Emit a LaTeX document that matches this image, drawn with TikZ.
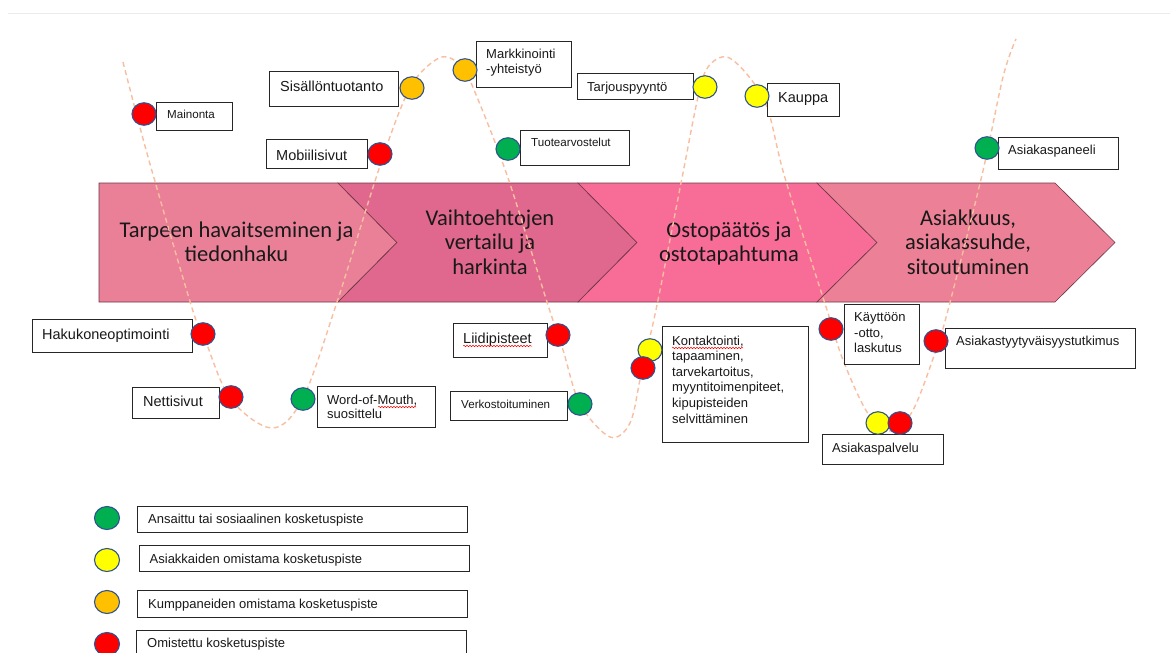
\documentclass[tikz,border=0pt]{standalone}
\usepackage{fontspec}
\setmainfont{Liberation Sans}
\newfontfamily\calfont{Carlito}
\usetikzlibrary{shapes.geometric,decorations.pathmorphing}

\definecolor{cA}{RGB}{233,128,152}
\definecolor{cB}{RGB}{224,104,142}
\definecolor{cC}{RGB}{248,108,152}
\definecolor{cD}{RGB}{236,128,150}
\definecolor{edgec}{RGB}{110,55,70}
\definecolor{curvec}{RGB}{248,190,160}
\definecolor{dotblue}{RGB}{47,82,143}
\definecolor{dred}{RGB}{255,0,0}
\definecolor{dgreen}{RGB}{0,176,80}
\definecolor{dyellow}{RGB}{255,255,0}
\definecolor{dorange}{RGB}{255,192,0}

\newcommand\tbx[5]{\node[tb, minimum width=#4pt, minimum height=#5pt] (#1) at (#2,#3) {};}

\begin{document}
\begin{tikzpicture}[x=1pt,y=-1pt,
  chev/.style={draw=edgec, line width=0.6pt},
  ctext/.style={font=\calfont\fontsize{22.5}{24}\selectfont, anchor=base, inner sep=0pt, text=black!90},
  tb/.style={draw=black!85, line width=0.9pt, fill=white, anchor=north west, inner sep=0pt},
  lb/.style={anchor=base west, inner sep=0pt, text=black!90},
  fa/.style={font=\fontsize{11.6}{14}\selectfont},
  fb/.style={font=\fontsize{13}{15.6}\selectfont},
  fc/.style={font=\fontsize{14.5}{17}\selectfont},
  dot/.style={ellipse, draw=dotblue, line width=1.1pt, minimum width=24pt, minimum height=22.5pt, inner sep=0pt},
  ldot/.style={dot, minimum width=25pt, minimum height=23pt},
  wave/.style={draw=curvec, line width=1.4pt, dash pattern=on 5pt off 3.5pt},
  spell/.style={draw=red, line width=0.5pt, decorate, decoration={snake, segment length=3pt, amplitude=0.7pt}}
]
\useasboundingbox (0,0) rectangle (1170,653);
\fill[white] (0,0) rectangle (1170,653);
\clip (0,0) rectangle (1170,653);

% faint top rule
\draw[black!8, line width=1pt] (8,13) -- (1170,13);

% chevrons
\filldraw[chev, fill=cA] (99,183) -- (338,183) -- (397,242.5) -- (338,302) -- (99,302) -- cycle;
\filldraw[chev, fill=cB] (338,183) -- (578,183) -- (637,242.5) -- (578,302) -- (338,302) -- (397,242.5) -- cycle;
\filldraw[chev, fill=cC] (578,183) -- (817,183) -- (877,242.5) -- (817,302) -- (578,302) -- (637,242.5) -- cycle;
\filldraw[chev, fill=cD] (817,183) -- (1055,183) -- (1115,242.5) -- (1055,302) -- (817,302) -- (877,242.5) -- cycle;

\node[ctext] (c1a) at (236.5,237) {Tarpeen havaitseminen ja};
\node[ctext] (c1b) at (236.5,261) {tiedonhaku};
\node[ctext] (c2a) at (490,225) {Vaihtoehtojen};
\node[ctext] (c2b) at (490,249) {vertailu ja};
\node[ctext] (c2c) at (490,274) {harkinta};
\node[ctext] (c3a) at (729,237) {Ostopäätös ja};
\node[ctext] (c3b) at (729,261) {ostotapahtuma};
\node[ctext] (c4a) at (968,225) {Asiakkuus,};
\node[ctext] (c4b) at (968,249) {asiakassuhde,};
\node[ctext] (c4c) at (968,274) {sitoutuminen};

% wave
\draw[wave] plot[smooth, tension=0.55] coordinates {
 (123,62) (138,120) (154,178) (192,308) (203,334) (230,398) (272,428) (303,398)
 (337,302) (376,178) (400,110) (417,77) (442,57) (462,67) (477,97) (508,178)
 (547,302) (563,350) (580,404) (610,437) (630,423) (641,375) (657,305) (682,178)
 (698,97) (708,67) (727,57) (750,78) (768,110) (785,178) (827,310) (843,360)
 (867,412) (889,431) (912,412) (935,353) (948,310) (982,175) (1003,77) (1016,39)};

% boxes
\tbx{bMain}{156}{102}{76}{28}
\tbx{bSis}{269}{71}{129}{35}
\tbx{bMob}{266}{139}{101}{29}
\tbx{bMark}{476}{41}{95}{46}
\tbx{bTarj}{577}{73}{116}{26}
\tbx{bTuot}{520}{130}{109}{35}
\tbx{bKaup}{767}{83}{72}{33}
\tbx{bPan}{998}{137}{120}{32}
\tbx{bHaku}{32}{319}{160}{33}
\tbx{bNet}{132}{387}{87}{31}
\tbx{bWom}{317}{386}{118}{41}
\tbx{bLiid}{453}{323}{94}{34}
\tbx{bVerk}{450}{391}{117}{29}
\tbx{bKont}{662}{326}{146}{116}
\tbx{bKayt}{844}{304}{75}{60}
\tbx{bTyyt}{945}{328}{190}{40}
\tbx{bPalv}{822}{434}{121}{30}
\tbx{bL1}{137}{506}{330}{26}
\tbx{bL2}{139}{545}{330}{26}
\tbx{bL3}{137}{590}{330}{27}
\tbx{bL4}{136}{630}{330}{32}

% box texts
\node[lb,fa] (tMain) at (167,118) {Mainonta};
\node[lb,fc] (tSis) at (280,91) {Sisällöntuotanto};
\node[lb,fc] (tMob) at (276,160.5) {Mobiilisivut};
\node[lb,fb] (tMark1) at (486,58) {Markkinointi};
\node[lb,fb] (tMark2) at (486,73.5) {-yhteistyö};
\node[lb,fb] (tTarj) at (587,91) {Tarjouspyyntö};
\node[lb,fa] (tTuot) at (531,146) {Tuotearvostelut};
\node[lb,fc] (tKaup) at (778,102.5) {Kauppa};
\node[lb,fb] (tPan) at (1008,154.5) {Asiakaspaneeli};
\node[lb,fc] (tHaku) at (42,339) {Hakukoneoptimointi};
\node[lb,fc] (tNet) at (143,406) {Nettisivut};
\node[lb,fb] (tWom1) at (327,404) {Word-of-Mouth,};
\node[lb,fb] (tWom2) at (327,418.5) {suosittelu};
\node[lb,fc] (tLiid) at (463,343) {Liidipisteet};
\node[lb,fa] (tVerk) at (461,408) {Verkostoituminen};
\node[lb,fb] (tKo1) at (672,345) {Kontaktointi,};
\node[lb,fb] (tKo2) at (672,360.6) {tapaaminen,};
\node[lb,fb] (tKo3) at (672,376.2) {tarvekartoitus,};
\node[lb,fb] (tKo4) at (672,391.8) {myyntitoimenpiteet,};
\node[lb,fb] (tKo5) at (672,407.4) {kipupisteiden};
\node[lb,fb] (tKo6) at (672,423) {selvittäminen};
\node[lb,fb] (tKa1) at (854,321.5) {Käyttöön};
\node[lb,fb] (tKa2) at (854,337) {-otto,};
\node[lb,fb] (tKa3) at (854,352.5) {laskutus};
\node[lb,fb] (tTyyt) at (956,345) {Asiakastyytyväisyystutkimus};
\node[lb,fb] (tPalv) at (832,452) {Asiakaspalvelu};
\node[lb,fb] (tL1) at (148,523.5) {Ansaittu tai sosiaalinen kosketuspiste};
\node[lb,fb] (tL2) at (149.5,563) {Asiakkaiden omistama kosketuspiste};
\node[lb,fb] (tL3) at (148,608.5) {Kumppaneiden omistama kosketuspiste};
\node[lb,fb] (tL4) at (147,647.5) {Omistettu kosketuspiste};

% spell-check squiggles
\draw[spell] (tLiid.base west) ++(0,3) -- ++(69,0);
\draw[spell] (tKo1.base west) ++(0,3) -- ++(71,0);
\draw[spell] (tWom1.base west) ++(51,3) -- ++(38,0);

% touchpoint dots
\node[dot, fill=dred] (d1) at (144,114) {};
\node[dot, fill=dorange] (d2) at (412,88) {};
\node[dot, fill=dred] (d3) at (380,154) {};
\node[dot, fill=dorange] (d4) at (465,70) {};
\node[dot, fill=dgreen] (d5) at (508,149) {};
\node[dot, fill=dyellow] (d6) at (705,87) {};
\node[dot, fill=dyellow] (d7) at (757,96) {};
\node[dot, fill=dgreen] (d8) at (987,148) {};
\node[dot, fill=dred] (d9) at (203,334) {};
\node[dot, fill=dred] (d10) at (231,397) {};
\node[dot, fill=dgreen] (d11) at (303,399) {};
\node[dot, fill=dred] (d12) at (558,335) {};
\node[dot, fill=dgreen] (d13) at (580,404) {};
\node[dot, fill=dyellow] (d14) at (650,350) {};
\node[dot, fill=dred] (d15) at (643,368) {};
\node[dot, fill=dred] (d16) at (831,329) {};
\node[dot, fill=dred] (d17) at (936,341) {};
\node[dot, fill=dyellow] (d18) at (878,423) {};
\node[dot, fill=dred] (d19) at (900,423) {};

% legend dots
\node[ldot, fill=dgreen] (l1) at (107,518) {};
\node[ldot, fill=dyellow] (l2) at (107,560) {};
\node[ldot, fill=dorange] (l3) at (107,602) {};
\node[ldot, fill=dred] (l4) at (107,644) {};
\end{tikzpicture}
\end{document}
